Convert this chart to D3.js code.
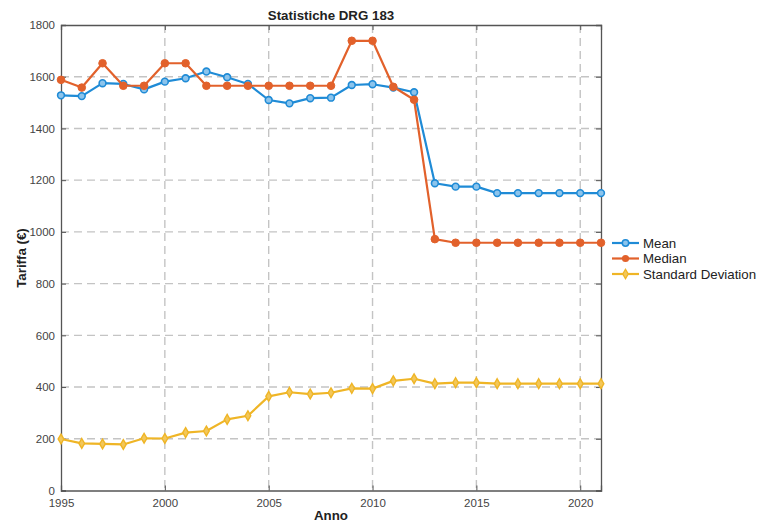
<!DOCTYPE html>
<html><head><meta charset="utf-8">
<script src="https://cdn.jsdelivr.net/npm/d3@7"></script>
<style>body{margin:0;background:#fff;} svg{font-family:"Liberation Sans",Arial,sans-serif;}</style>
</head><body><svg id="c" width="758" height="524"></svg>
<script>
const years = d3.range(1995, 2022);
const meanVals = [1528,1525,1575,1572,1551,1581,1594,1620,1598,1572,1510,1497,1517,1519,1568,1571,1558,1540,1188,1175,1175,1150,1150,1150,1150,1150,1150];
const medianVals = [1588,1558,1652,1565,1565,1652,1652,1565,1565,1565,1565,1565,1565,1565,1739,1739,1561,1511,972,958,958,958,958,958,958,958,958];
const stdVals = [199,182,180,178,202,201,224,230,275,289,364,380,373,378,395,394,424,432,413,417,417,413,413,413,413,413,413];
const xTicks = [1995,2000,2005,2010,2015,2020];
const yTicks = [0,200,400,600,800,1000,1200,1400,1600,1800];
const seriesNames = ["Mean","Median","Standard Deviation"];
const colors = ["#1f8bd6","#e2612b","#efb526"];

const svg = d3.select("#c");
const L=61, R=601, T=25, B=490.5;
const x = d3.scaleLinear().domain([1995,2021]).range([L,R]);
const y = d3.scaleLinear().domain([0,1800]).range([B,T]);

const g = svg.append("g");
g.selectAll(".gx").data(xTicks.slice(1)).join("line")
 .attr("x1",d=>x(d)).attr("x2",d=>x(d)).attr("y1",T).attr("y2",B)
 .attr("stroke","#c4c4c4").attr("stroke-width",1.4).attr("stroke-dasharray","8,5");
g.selectAll(".gy").data(yTicks.slice(1,-1)).join("line")
 .attr("y1",d=>y(d)).attr("y2",d=>y(d)).attr("x1",L).attr("x2",R)
 .attr("stroke","#c4c4c4").attr("stroke-width",1.4).attr("stroke-dasharray","8,5");

const axL = d3.axisLeft(y).tickValues(yTicks).tickSize(-5).tickPadding(6).tickFormat(d3.format("d"));
const axR = d3.axisRight(y).tickValues(yTicks).tickSize(-5).tickFormat("");
const axB = d3.axisBottom(x).tickValues(xTicks).tickSize(-5).tickPadding(8).tickFormat(d3.format("d"));
const axT = d3.axisTop(x).tickValues(xTicks).tickSize(-5).tickFormat("");
function style(sel){
  sel.select(".domain").attr("stroke","#555").attr("stroke-width",1.3);
  sel.selectAll(".tick line").attr("stroke","#555");
  sel.selectAll("text").attr("fill","#444").style("font-size","11.5px");
}
svg.append("g").attr("transform",`translate(${L},0)`).call(axL).call(style);
svg.append("g").attr("transform",`translate(${R},0)`).call(axR).call(style);
svg.append("g").attr("transform",`translate(0,${B})`).call(axB).call(style);
svg.append("g").attr("transform",`translate(0,${T})`).call(axT).call(style);

const data = [meanVals, medianVals, stdVals];
const line = d3.line().x((d,i)=>x(years[i])).y(d=>y(d));
data.forEach((vals,k)=>{
  svg.append("path").datum(vals).attr("d",line).attr("fill","none")
    .attr("stroke",colors[k]).attr("stroke-width",2.2).attr("stroke-linejoin","round");
  const mg = svg.append("g");
  if(k===0){
    mg.selectAll("circle").data(vals).join("circle")
      .attr("cx",(d,i)=>x(years[i])).attr("cy",d=>y(d)).attr("r",3.4)
      .attr("fill","#8cc4ec").attr("stroke",colors[k]).attr("stroke-width",1.6);
  } else if(k===1){
    mg.selectAll("circle").data(vals).join("circle")
      .attr("cx",(d,i)=>x(years[i])).attr("cy",d=>y(d)).attr("r",3.8)
      .attr("fill",colors[k]).attr("stroke",colors[k]);
  } else {
    mg.selectAll("path").data(vals).join("path")
      .attr("transform",(d,i)=>`translate(${x(years[i])},${y(d)})`)
      .attr("d",d3.symbol(d3.symbolDiamond,28))
      .attr("fill","#f3c75a").attr("stroke",colors[k]).attr("stroke-width",1.4);
  }
});

svg.append("text").attr("x",331).attr("y",20).attr("text-anchor","middle")
  .style("font-weight","bold").style("font-size","13.3px").attr("fill","#222").text("Statistiche DRG 183");
svg.append("text").attr("x",331).attr("y",520).attr("text-anchor","middle")
  .style("font-weight","bold").style("font-size","13.3px").attr("fill","#222").text("Anno");
svg.append("text").attr("transform","translate(26,258) rotate(-90)").attr("text-anchor","middle")
  .style("font-weight","bold").style("font-size","13.3px").attr("fill","#222").text("Tariffa (€)");

const lg = svg.append("g");
seriesNames.forEach((n,k)=>{
  const yy = 243 + k*15.5;
  lg.append("line").attr("x1",612).attr("x2",639).attr("y1",yy).attr("y2",yy)
    .attr("stroke",colors[k]).attr("stroke-width",2.2);
  if(k===0) lg.append("circle").attr("cx",625.5).attr("cy",yy).attr("r",3.2).attr("fill","#8cc4ec").attr("stroke",colors[k]).attr("stroke-width",1.5);
  else if(k===1) lg.append("circle").attr("cx",625.5).attr("cy",yy).attr("r",3.6).attr("fill",colors[k]);
  else lg.append("path").attr("transform",`translate(625.5,${yy})`).attr("d",d3.symbol(d3.symbolDiamond,26)).attr("fill","#f3c75a").attr("stroke",colors[k]).attr("stroke-width",1.3);
  lg.append("text").attr("x",643).attr("y",yy+4.5).style("font-size","13.3px").attr("fill","#222").text(n);
});
</script></body></html>
